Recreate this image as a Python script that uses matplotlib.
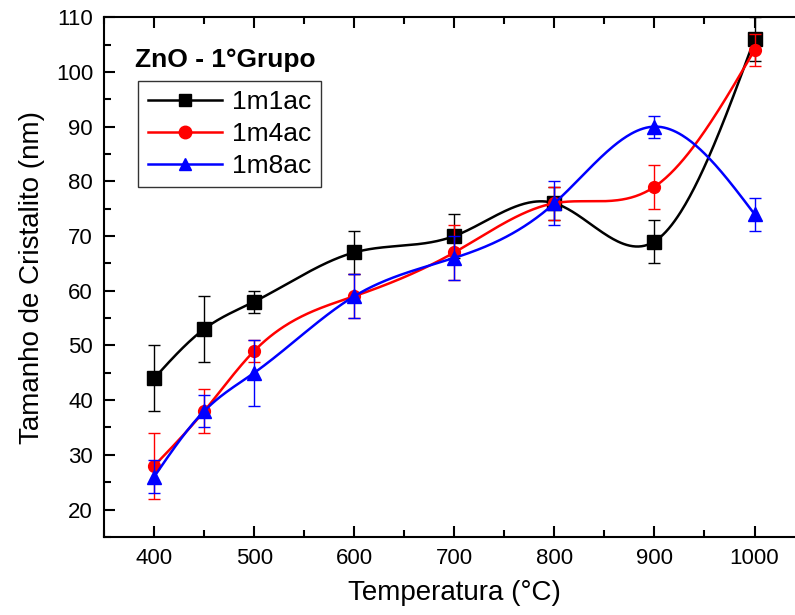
import numpy as np
import matplotlib
matplotlib.use('Agg')
import matplotlib.pyplot as plt
from matplotlib.ticker import MultipleLocator

plt.rcParams['font.family'] = ['Liberation Sans', 'DejaVu Sans']

# temperatures (C)
temp = [400, 450, 500, 600, 700, 800, 900, 1000]

# crystallite size (nm) and errors per sample
m1 = [44, 53, 58, 67, 70, 76, 69, 106]
m1_err = [6, 6, 2, 4, 4, 3, 4, 4]
m4 = [28, 38, 49, 59, 67, 76, 79, 104]
m4_err = [6, 4, 2, 4, 5, 3, 4, 3]
m8 = [26, 38, 45, 59, 66, 76, 90, 74]
m8_err = [3, 3, 6, 4, 4, 4, 2, 3]


def spline(x, y, n=400):
    # natural cubic spline through the points
    x = np.asarray(x, float); y = np.asarray(y, float)
    k = len(x); h = np.diff(x)
    A = np.zeros((k, k)); r = np.zeros(k)
    A[0, 0] = 1; A[-1, -1] = 1
    for i in range(1, k - 1):
        A[i, i - 1] = h[i - 1]; A[i, i] = 2 * (h[i - 1] + h[i]); A[i, i + 1] = h[i]
        r[i] = 6 * ((y[i + 1] - y[i]) / h[i] - (y[i] - y[i - 1]) / h[i - 1])
    M = np.linalg.solve(A, r)
    xs = np.linspace(x[0], x[-1], n)
    j = np.clip(np.searchsorted(x, xs) - 1, 0, k - 2)
    t0 = x[j + 1] - xs; t1 = xs - x[j]
    ys = (M[j] * t0**3 + M[j + 1] * t1**3) / (6 * h[j]) \
        + (y[j] / h[j] - M[j] * h[j] / 6) * t0 + (y[j + 1] / h[j] - M[j + 1] * h[j] / 6) * t1
    return xs, ys


fig = plt.figure(figsize=(7.95, 6.15), dpi=100)
ax = fig.add_axes([0.131, 0.127, 0.881, 0.845])

series = [(m1, m1_err, 'black', 's', '1m1ac'),
          (m4, m4_err, 'red', 'o', '1m4ac'),
          (m8, m8_err, 'blue', '^', '1m8ac')]
for vals, err, col, mk, lab in series:
    ax.errorbar(temp, vals, yerr=err, fmt='none', ecolor=col, elinewidth=1, capsize=4, capthick=1)
    xs, ys = spline(temp, vals)
    ax.plot(xs, ys, color=col, lw=1.8)
    ax.plot(temp, vals, ls='none', marker=mk, color=col, ms=9.5 if mk != 'o' else 8.5)
    ax.plot([], [], color=col, lw=1.8, marker=mk, ms=9, label=lab)

ax.set_xlim(350, 1050)
ax.set_ylim(15, 110)
ax.xaxis.set_major_locator(MultipleLocator(100))
ax.xaxis.set_minor_locator(MultipleLocator(50))
ax.yaxis.set_major_locator(MultipleLocator(10))
ax.yaxis.set_minor_locator(MultipleLocator(5))
ax.tick_params(which='both', direction='in', top=True, right=False, width=1.5, labelsize=16, pad=8)
ax.tick_params(which='major', length=8)
ax.tick_params(which='minor', length=5)
for s in ['left', 'bottom', 'top']:
    ax.spines[s].set_linewidth(1.5)
ax.spines['right'].set_visible(False)

ax.set_xlabel('Temperatura (°C)', fontsize=20, labelpad=8)
ax.set_ylabel('Tamanho de Cristalito (nm)', fontsize=20, labelpad=8)

ax.text(0.044, 0.917, 'ZnO - 1°Grupo', transform=ax.transAxes, fontsize=19,
        fontweight='bold', va='center')
leg = ax.legend(loc='upper left', bbox_to_anchor=(0.049, 0.877), borderaxespad=0,
                fontsize=19, frameon=True, fancybox=False, edgecolor='black',
                handlelength=2.8, borderpad=0.35, labelspacing=0.3, handletextpad=0.4)
leg.get_frame().set_linewidth(1)

fig.savefig('out.png', dpi=100)
